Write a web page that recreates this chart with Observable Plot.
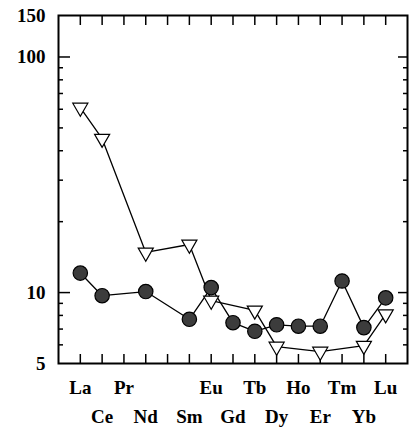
<!DOCTYPE html>
<html>
<head>
<meta charset="utf-8">
<script src="https://cdn.jsdelivr.net/npm/d3@7"></script>
<script src="https://cdn.jsdelivr.net/npm/@observablehq/plot@0.6"></script>
<style>
  html, body { margin: 0; padding: 0; background: #fff; }
</style>
</head>
<body>
<div id="chart"></div>
<script>
const elements = ["La","Ce","Pr","Nd","Pm","Sm","Eu","Gd","Tb","Dy","Ho","Er","Tm","Yb","Lu"];
const circleSeries = [12.1, 9.7, null, 10.1, null, 7.7, 10.5, 7.45, 6.85, 7.3, 7.2, 7.2, 11.2, 7.1, 9.5];
const triangleSeries = [61, 45, null, 14.8, null, 16.0, 9.25, null, 8.4, 5.9, null, 5.62, null, 5.95, 8.1];
const yTickLabels = [5, 10, 100, 150];
const yMajorTicks = [10, 100];
const yMinorTicks = [6, 7, 8, 9, 20, 30, 40, 50, 60, 70, 80, 90];
const topRow = ["La","Pr","Eu","Tb","Ho","Tm","Lu"];
const bottomRow = ["Ce","Nd","Sm","Gd","Dy","Er","Yb"];

const idx = elements.map((_, i) => i);
const circles = idx.map(i => ({i, el: elements[i], v: circleSeries[i]})).filter(d => d.v != null);
const triangles = idx.map(i => ({i, el: elements[i], v: triangleSeries[i]})).filter(d => d.v != null);
const topIdx = topRow.map(e => elements.indexOf(e));
const bottomIdx = bottomRow.map(e => elements.indexOf(e));

const font = "'Liberation Serif', 'Times New Roman', serif";
const noText = () => "";

const chart = Plot.plot({
  width: 412,
  height: 429,
  marginTop: 15,
  marginBottom: 66,
  marginLeft: 58,
  marginRight: 5,
  style: {fontFamily: font, background: "#fff"},
  x: {type: "linear", domain: [-1, 15]},
  y: {type: "log", domain: [5, 150]},
  marks: [
    // y tick labels
    Plot.axisY(yTickLabels, {anchor: "left", tickSize: 0, tickPadding: 13, fontSize: 19, fontWeight: "bold", tickFormat: d => String(d), label: null}),
    // y major ticks (inward)
    Plot.axisY(yMajorTicks, {anchor: "left", tickSize: -12, tickFormat: noText, label: null, strokeWidth: 1.5}),
    Plot.axisY(yMajorTicks, {anchor: "right", tickSize: -10, tickFormat: noText, label: null, strokeWidth: 1.5}),
    Plot.axisY(yMinorTicks, {anchor: "left", tickSize: -5, tickFormat: noText, label: null, strokeWidth: 1.5}),
    Plot.axisY(yMinorTicks, {anchor: "right", tickSize: -5, tickFormat: noText, label: null, strokeWidth: 1.5}),
    // x ticks inward, top and bottom
    Plot.axisX(idx, {anchor: "bottom", tickSize: -9, tickFormat: noText, label: null, strokeWidth: 1.5}),
    Plot.axisX(idx, {anchor: "top", tickSize: -9, tickFormat: noText, label: null, strokeWidth: 1.5}),
    // x labels, two staggered rows
    Plot.axisX(topIdx, {anchor: "bottom", tickSize: 0, tickPadding: 17, fontSize: 19, fontWeight: "bold", tickFormat: i => elements[i], label: null}),
    Plot.axisX(bottomIdx, {anchor: "bottom", tickSize: 0, tickPadding: 46, fontSize: 19, fontWeight: "bold", tickFormat: i => elements[i], label: null}),
    Plot.frame({stroke: "#000", strokeWidth: 2}),
    // series
    Plot.line(circles, {x: "i", y: "v", stroke: "#000", strokeWidth: 1.3}),
    Plot.line(triangles, {x: "i", y: "v", stroke: "#000", strokeWidth: 1.3}),
    Plot.dot(circles, {x: "i", y: "v", r: 7.2, fill: "#3c3c3c", stroke: "#000", strokeWidth: 1.2}),
    Plot.dot(triangles, {x: "i", y: "v", symbol: "triangle", rotate: 180, r: 5.6, fill: "#fff", stroke: "#000", strokeWidth: 1.2})
  ]
});
document.getElementById("chart").appendChild(chart);
</script>
</body>
</html>
